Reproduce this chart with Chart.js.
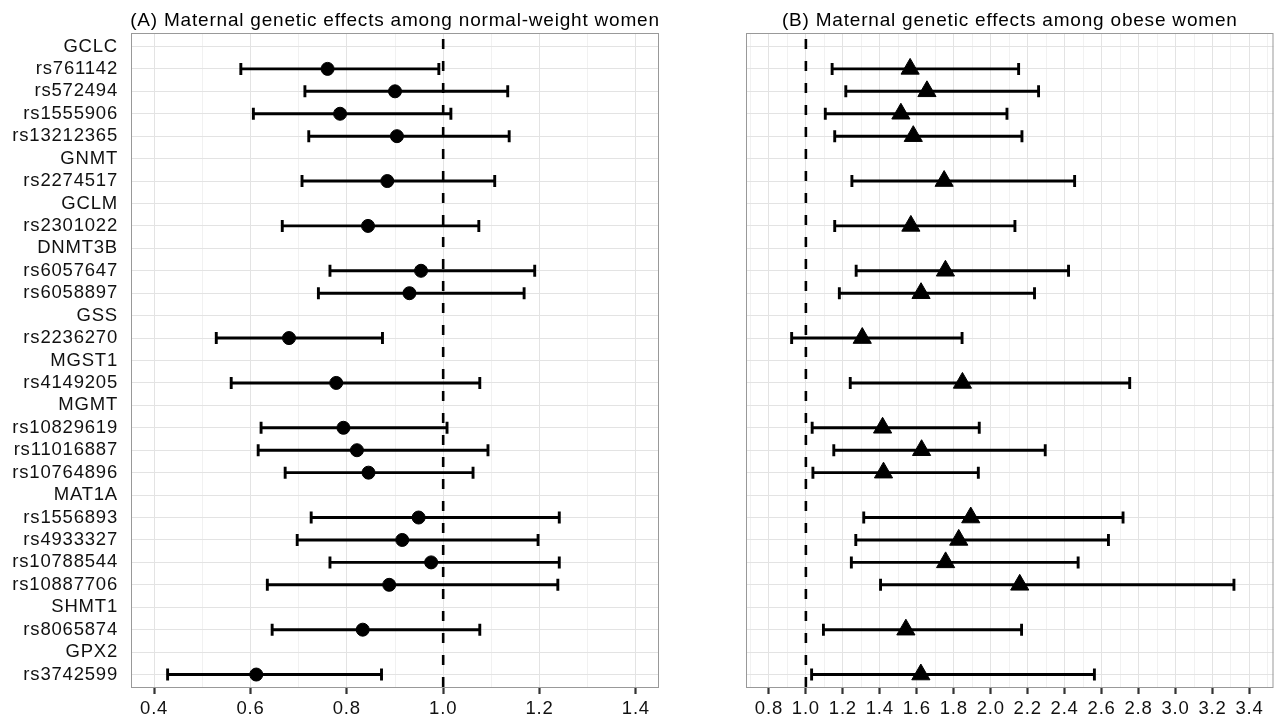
<!DOCTYPE html>
<html>
<head>
<meta charset="utf-8">
<script src="https://cdn.jsdelivr.net/npm/chart.js@4.4.0/dist/chart.umd.min.js"></script>
<style>
  html, body { margin: 0; padding: 0; background: #fff; }
  #wrap { position: relative; width: 1285px; height: 723px; }
  canvas { position: absolute; top: 0; }
  #chartA { left: 0; }
  #chartB { left: 700px; }
</style>
</head>
<body>
<div id="wrap">
  <canvas id="chartA" width="680" height="723"></canvas>
  <canvas id="chartB" width="585" height="723"></canvas>
</div>
<script>
// rows, top to bottom (gene header rows carry no estimate)
const rowLabels = ['GCLC', 'rs761142', 'rs572494', 'rs1555906', 'rs13212365', 'GNMT', 'rs2274517',
  'GCLM', 'rs2301022', 'DNMT3B', 'rs6057647', 'rs6058897', 'GSS', 'rs2236270', 'MGST1', 'rs4149205',
  'MGMT', 'rs10829619', 'rs11016887', 'rs10764896', 'MAT1A', 'rs1556893', 'rs4933327', 'rs10788544',
  'rs10887706', 'SHMT1', 'rs8065874', 'GPX2', 'rs3742599'];

// (A) normal-weight women
const normalEst = [null, 0.760, 0.900, 0.786, 0.904, null, 0.884, null, 0.844, null, 0.954, 0.930, null,
  0.680, null, 0.778, null, 0.793, 0.821, 0.845, null, 0.949, 0.915, 0.975, 0.888, null, 0.833, null, 0.612];
const normalLo = [null, 0.580, 0.713, 0.606, 0.721, null, 0.707, null, 0.666, null, 0.765, 0.741, null,
  0.529, null, 0.560, null, 0.622, 0.616, 0.672, null, 0.726, 0.697, 0.765, 0.635, null, 0.645, null, 0.428];
const normalHi = [null, 0.991, 1.134, 1.016, 1.137, null, 1.107, null, 1.074, null, 1.190, 1.168, null,
  0.874, null, 1.076, null, 1.008, 1.093, 1.062, null, 1.241, 1.197, 1.241, 1.238, null, 1.076, null, 0.872];

// (B) obese women
const obeseEst = [null, 1.564, 1.655, 1.514, 1.581, null, 1.748, null, 1.568, null, 1.755, 1.623, null,
  1.305, null, 1.847, null, 1.415, 1.626, 1.420, null, 1.892, 1.827, 1.756, 2.157, null, 1.541, null, 1.622];
const obeseLo = [null, 1.142, 1.216, 1.105, 1.156, null, 1.249, null, 1.156, null, 1.272, 1.181, null,
  0.923, null, 1.240, null, 1.034, 1.151, 1.038, null, 1.313, 1.270, 1.246, 1.404, null, 1.095, null, 1.031];
const obeseHi = [null, 2.151, 2.259, 2.088, 2.169, null, 2.454, null, 2.131, null, 2.421, 2.237, null,
  1.845, null, 2.752, null, 1.938, 2.295, 1.933, null, 2.716, 2.637, 2.473, 3.316, null, 2.167, null, 2.561];

// axis ticks
const majorA = [0.4, 0.6, 0.8, 1.0, 1.2, 1.4];
const minorA = [0.5, 0.7, 0.9, 1.1, 1.3];
const majorB = [0.8, 1.0, 1.2, 1.4, 1.6, 1.8, 2.0, 2.2, 2.4, 2.6, 2.8, 3.0, 3.2, 3.4];
const minorB = [0.7, 0.9, 1.1, 1.3, 1.5, 1.7, 1.9, 2.1, 2.3, 2.5, 2.7, 2.9, 3.1, 3.3, 3.5];

const refValue = 1.0;
const fontFamily = "'Liberation Sans', Arial, sans-serif";

function spaceText(chart) {
  chart.ctx.letterSpacing = '0.8px';
}

const forestPlugin = {
  id: 'forest',
  beforeUpdate: spaceText,
  beforeDraw: spaceText,
  beforeDatasetsDraw(chart) {
    const o = chart.options.plugins.forest;
    const ctx = chart.ctx;
    const a = chart.chartArea;
    const x = chart.scales.x, y = chart.scales.y;
    ctx.save();
    ctx.beginPath();
    ctx.rect(a.left, a.top, a.right - a.left, a.bottom - a.top);
    ctx.clip();

    // reference line at 1
    ctx.strokeStyle = '#000';
    ctx.lineWidth = 2.6;
    ctx.setLineDash([10, 12]);
    ctx.lineDashOffset = 16;
    const rx = x.getPixelForValue(refValue);
    ctx.beginPath();
    ctx.moveTo(rx, a.top);
    ctx.lineTo(rx, a.bottom);
    ctx.stroke();
    ctx.setLineDash([]);

    // confidence intervals
    ctx.lineWidth = 2.9;
    o.lo.forEach(function (lo, i) {
      if (lo === null) return;
      const yy = y.getPixelForValue(i);
      const x0 = x.getPixelForValue(lo);
      const x1 = x.getPixelForValue(o.hi[i]);
      ctx.beginPath();
      ctx.moveTo(x0, yy); ctx.lineTo(x1, yy);
      ctx.moveTo(x0, yy - 6); ctx.lineTo(x0, yy + 6);
      ctx.moveTo(x1, yy - 6); ctx.lineTo(x1, yy + 6);
      ctx.stroke();
    });
    ctx.restore();
  },
  afterDraw(chart) {
    const o = chart.options.plugins.forest;
    const ctx = chart.ctx;
    const a = chart.chartArea;
    ctx.save();
    ctx.strokeStyle = '#999';
    ctx.lineWidth = 1;
    ctx.strokeRect(a.left + 0.5, a.top + 0.5, a.right - a.left - 1, a.bottom - a.top - 1);
    ctx.fillStyle = '#000';
    ctx.font = '19px ' + fontFamily;
    ctx.textAlign = 'center';
    ctx.textBaseline = 'middle';
    ctx.fillText(o.title, (a.left + a.right) / 2, 21);
    ctx.restore();
  }
};

function makePanel(id, cfg) {
  const allTicks = cfg.major.concat(cfg.minor).sort(function (p, q) { return p - q; });
  const isMajor = function (v) { return cfg.major.indexOf(v) >= 0; };
  const points = [];
  for (let i = 0; i < cfg.est.length; i++) {
    if (cfg.est[i] !== null) points.push({ x: cfg.est[i], y: i });
  }

  return new Chart(document.getElementById(id), {
    type: 'scatter',
    data: {
      datasets: [{
        data: points,
        pointStyle: cfg.shape,
        pointRadius: cfg.radius,
        pointBackgroundColor: '#000',
        pointBorderColor: '#000',
        pointBorderWidth: 1
      }]
    },
    options: {
      responsive: false,
      animation: false,
      events: [],
      layout: { padding: { top: 33, right: cfg.padRight, bottom: 0, left: 0 } },
      plugins: {
        legend: { display: false },
        tooltip: { enabled: false },
        forest: { lo: cfg.lo, hi: cfg.hi, title: cfg.title }
      },
      scales: {
        x: {
          type: 'linear',
          min: cfg.min,
          max: cfg.max,
          afterBuildTicks: function (axis) {
            axis.ticks = allTicks.map(function (v) { return { value: v }; });
          },
          afterFit: function (axis) { axis.height = 35; },
          ticks: {
            autoSkip: false,
            maxRotation: 0,
            padding: 4,
            color: '#111',
            font: { family: fontFamily, size: 18.5 },
            callback: function (v) { return isMajor(v) ? v.toFixed(1) : ''; }
          },
          grid: {
            color: function (c) { return c.tick && isMajor(c.tick.value) ? '#e3e3e3' : '#f1f1f1'; },
            tickColor: function (c) { return c.tick && isMajor(c.tick.value) ? '#333' : 'rgba(0,0,0,0)'; },
            tickLength: 6,
            tickWidth: 2.2
          },
          border: { display: false }
        },
        y: {
          type: 'linear',
          min: -0.6,
          max: rowLabels.length - 0.4,
          reverse: true,
          afterBuildTicks: function (axis) {
            axis.ticks = rowLabels.map(function (l, i) { return { value: i }; });
          },
          afterFit: function (axis) { axis.width = cfg.yWidth; },
          ticks: {
            display: cfg.showLabels,
            autoSkip: false,
            padding: 13,
            color: '#111',
            font: { family: fontFamily, size: 18.5 },
            callback: function (v) { return rowLabels[v]; }
          },
          grid: { color: '#e3e3e3', drawTicks: false },
          border: { display: false }
        }
      }
    },
    plugins: [forestPlugin]
  });
}

makePanel('chartA', {
  title: '(A) Maternal genetic effects among normal-weight women',
  est: normalEst, lo: normalLo, hi: normalHi,
  major: majorA, minor: minorA,
  min: 0.352, max: 1.448,
  shape: 'circle', radius: 6.5,
  yWidth: 131, padRight: 21, showLabels: true
});

makePanel('chartB', {
  title: '(B) Maternal genetic effects among obese women',
  est: obeseEst, lo: obeseLo, hi: obeseHi,
  major: majorB, minor: minorB,
  min: 0.676, max: 3.53,
  shape: 'triangle', radius: 10.5,
  yWidth: 46, padRight: 11, showLabels: false
});
</script>
</body>
</html>
